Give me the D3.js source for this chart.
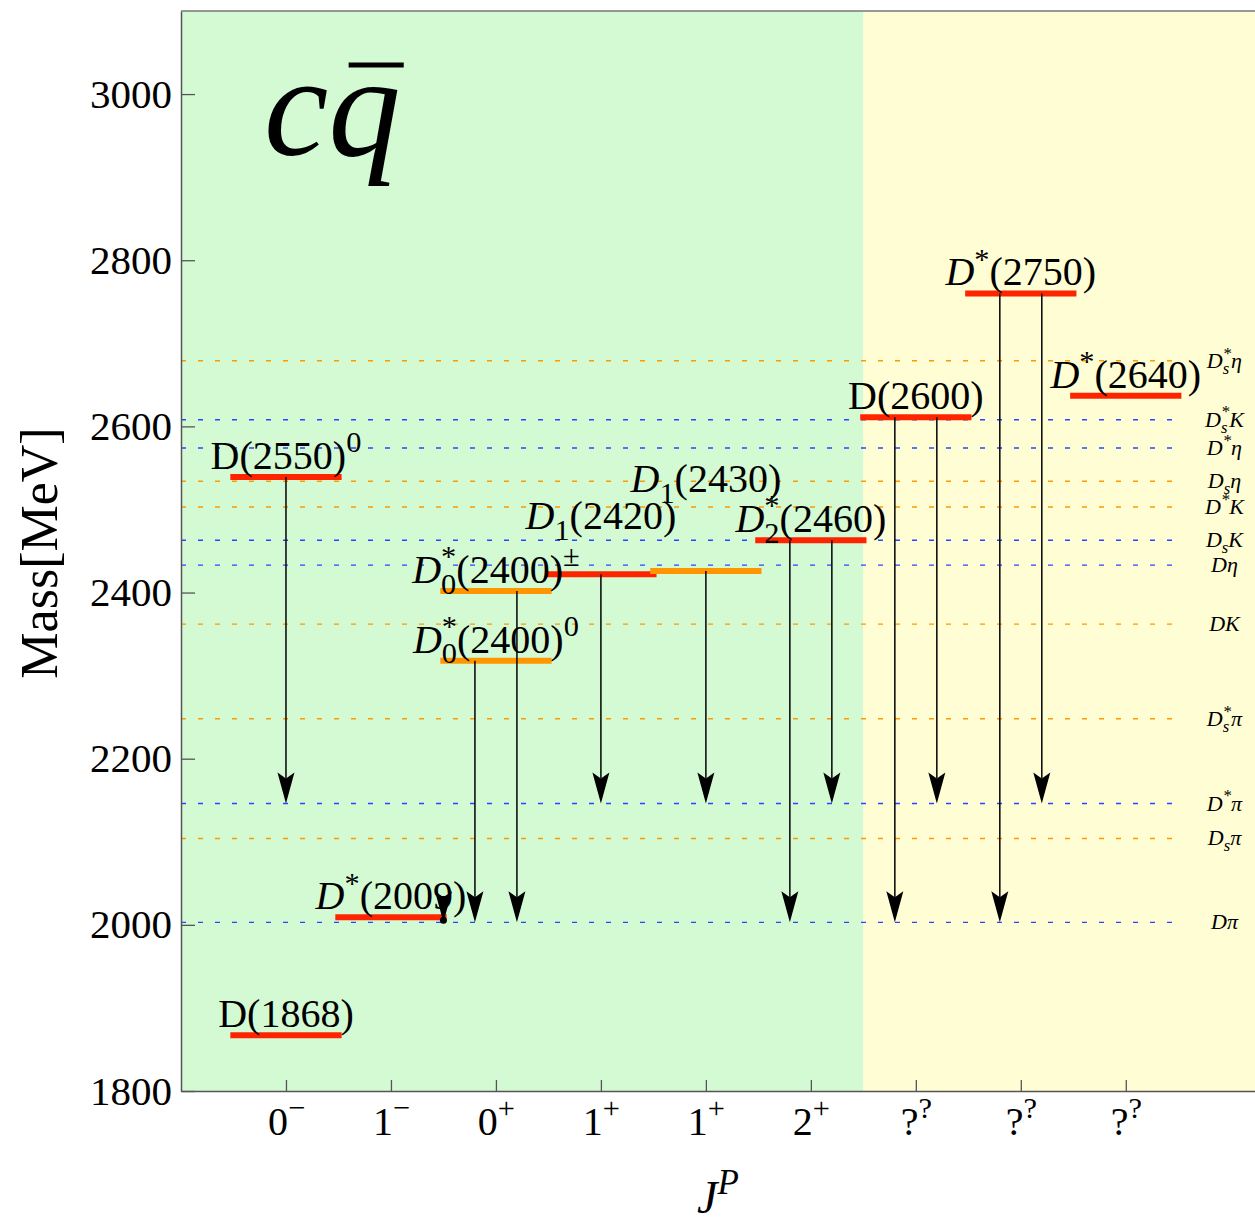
<!DOCTYPE html>
<html>
<head>
<meta charset="utf-8">
<script src="https://cdn.jsdelivr.net/npm/d3@7"></script>
<style>
  body { margin: 0; background: #fff; }
  text { font-family: "Liberation Serif", "Times New Roman", serif; fill: #000; }
</style>
</head>
<body>
<svg id="chart"></svg>
<script>
'use strict';

// Spin-parity slots on the x axis: base symbol and its superscript.
const jpBase = ['0', '1', '0', '1', '1', '2', '?', '?', '?'];
const jpSup = ['\u2212', '\u2212', '+', '+', '+', '+', '?', '?', '?'];
const massTicks = [1800, 2000, 2200, 2400, 2600, 2800, 3000];

// Charmed mesons. Markup: {X} italic, _x subscript, ^x superscript.
const levelNames = ['D(1868)', '{D}^*(2009)', '{D}_0^*(2400)^\u00b1',
  '{D}_0^*(2400)^0', '{D}_1(2420)', '{D}_1(2430)', '{D}_2^*(2460)',
  'D(2550)^0', 'D(2600)', '{D}^*(2750)', '{D}^*(2640)'];
const levelSlot = [1, 2, 3, 3, 4, 5, 6, 1, 7, 8, 9];
const levelMass = [1867, 2009, 2402, 2318, 2422, 2426, 2463, 2539, 2611, 2760, 2637];
const levelBroad = [false, false, true, true, false, true, false, false, false, false, false];

// Two-body thresholds, group 0 drawn blue, group 1 orange.
const thresholdNames = ['D\u03c0', 'D_s\u03c0', 'D^*\u03c0', 'D_s^*\u03c0', 'DK',
  'D\u03b7', 'D_sK', 'D^*K', 'D_s\u03b7', 'D^*\u03b7', 'D_s^*K', 'D_s^*\u03b7'];
const thresholdMass = [2003, 2104, 2146, 2248, 2362, 2433, 2463, 2503, 2534, 2574, 2608, 2679];
const thresholdGroup = [0, 1, 0, 1, 1, 0, 0, 1, 1, 0, 0, 1];

// Decays: level index -> threshold index, drawn at x position decaySlot.
const decayFrom = [7, 1, 3, 2, 4, 5, 6, 6, 8, 8, 9, 9];
const decayTo = [2, 0, 0, 0, 2, 2, 0, 2, 0, 2, 0, 2];
const decaySlot = [1, 2.5, 2.8, 3.2, 4, 5, 5.8, 6.2, 6.8, 7.2, 7.8, 8.2];

const width = 1255;
const height = 1223;
const svg = d3.select('#chart').attr('width', width).attr('height', height);

const x = d3.scaleLinear().domain([0, 10.25]).range([181, 1257]);
const y = d3.scaleLinear().domain([1800, 3100]).range([1091, 11]);

// Label lift above the bar, in px (a few labels are raised to avoid overlap).
const labelLift = {4: 37, 5: 71};

/** Writes a tiny markup string into a text element as tspans. */
function appendMarkup(text, markup, size, italicAll) {
  const small = 0.76 * size;
  const supShift = -0.42 * size;
  const subShift = 0.27 * size;
  let shift = 0;
  let italic = false;
  let lastSub = null;
  for (let i = 0; i < markup.length; i++) {
    const ch = markup[i];
    if (ch === '{') { italic = true; continue; }
    if (ch === '}') { italic = false; continue; }
    let s = ch;
    let target = 0;
    let sz = size;
    if (ch === '_' || ch === '^') {
      s = markup[++i];
      target = ch === '_' ? subShift : supShift;
      sz = small;
    }
    const t = text.append('tspan')
        .text(s)
        .attr('font-size', sz)
        .attr('dy', target - shift);
    if (italic || italicAll) t.attr('font-style', 'italic');
    // Stack a superscript right above a preceding subscript.
    if (ch === '^' && lastSub) {
      t.attr('dx', -lastSub.node().getComputedTextLength());
    }
    lastSub = ch === '_' ? t : null;
    shift = target;
  }
}

// Background bands: known J^P (green) and unknown (yellow).
svg.append('rect')
    .attr('x', x(0)).attr('y', y(3100))
    .attr('width', x(6.5) - x(0)).attr('height', y(1800) - y(3100))
    .attr('fill', '#d4fad4');
svg.append('rect')
    .attr('x', x(6.5)).attr('y', y(3100))
    .attr('width', x(10.25) - x(6.5)).attr('height', y(1800) - y(3100))
    .attr('fill', '#fffdd3');

// Threshold lines.
svg.append('g').selectAll('line')
    .data(thresholdMass)
    .join('line')
    .attr('x1', x(0))
    .attr('x2', x(9.55))
    .attr('y1', d => y(d))
    .attr('y2', d => y(d))
    .attr('stroke', (d, i) => thresholdGroup[i] ? '#ff9900' : '#2a45ff')
    .attr('stroke-width', 1.4)
    .attr('stroke-dasharray', '5,12');

thresholdNames.forEach((name, i) => {
  const t = svg.append('text')
      .attr('x', x(9.94))
      .attr('y', y(thresholdMass[i]) + 7)
      .attr('text-anchor', 'middle')
      .attr('font-size', 22);
  appendMarkup(t, name, 22, true);
});

// Meson levels.
svg.append('g').selectAll('line')
    .data(levelMass)
    .join('line')
    .attr('x1', (d, i) => x(levelSlot[i] - 0.53))
    .attr('x2', (d, i) => x(levelSlot[i] + 0.53))
    .attr('y1', d => y(d))
    .attr('y2', d => y(d))
    .attr('stroke', (d, i) => levelBroad[i] ? '#ff9600' : '#ff2400')
    .attr('stroke-width', 6);

// Decay arrows.
const headLen = 31;
const headHalf = 8.5;
const arrows = svg.append('g');
decayFrom.forEach((from, k) => {
  const ax = x(decaySlot[k]);
  const y0 = y(levelMass[from]);
  const tip = y(thresholdMass[decayTo[k]]);
  arrows.append('line')
      .attr('x1', ax).attr('x2', ax)
      .attr('y1', y0).attr('y2', Math.max(y0, tip - headLen + 6))
      .attr('stroke', '#111')
      .attr('stroke-width', 1.6);
  arrows.append('path')
      .attr('d', `M${ax},${tip} L${ax - headHalf},${tip - headLen} ` +
          `L${ax},${tip - headLen + 6} L${ax + headHalf},${tip - headLen} Z`)
      .attr('fill', '#000');
  if (tip - y0 < headLen) {
    arrows.append('circle')
        .attr('cx', ax).attr('cy', tip - 2).attr('r', 3.5)
        .attr('fill', '#000');
  }
});

// Level labels.
levelNames.forEach((name, i) => {
  const t = svg.append('text')
      .attr('x', x(levelSlot[i]))
      .attr('y', y(levelMass[i]) - 8 - (labelLift[i] || 0))
      .attr('text-anchor', 'middle')
      .attr('font-size', 40);
  appendMarkup(t, name, 40, false);
});

// Axes.
const yAxis = svg.append('g')
    .attr('transform', `translate(${x(0)},0)`)
    .call(d3.axisLeft(y).tickValues(massTicks).tickSize(-14)
        .tickSizeOuter(0).tickPadding(9).tickFormat(d3.format('d')));
yAxis.selectAll('text')
    .attr('font-size', 41)
    .attr('font-family', '"Liberation Serif", serif');

const xAxis = svg.append('g')
    .attr('transform', `translate(0,${y(1800)})`)
    .call(d3.axisBottom(x).tickValues(d3.range(1, 10)).tickSize(-11)
        .tickSizeOuter(0).tickFormat(''));
xAxis.selectAll('.tick').each(function(d) {
  const t = d3.select(this).append('text')
      .attr('x', 0)
      .attr('y', 44)
      .attr('text-anchor', 'middle')
      .attr('font-size', 40)
      .attr('font-family', '"Liberation Serif", serif');
  appendMarkup(t, jpBase[d - 1] + '^' + jpSup[d - 1], 40, false);
});
[yAxis, xAxis].forEach(a => {
  a.select('.domain').attr('stroke', '#555').attr('stroke-width', 1.5);
  a.selectAll('.tick line').attr('stroke', '#555').attr('stroke-width', 1.3);
});

// Top frame line.
svg.append('line')
    .attr('x1', x(0)).attr('x2', width)
    .attr('y1', y(3100)).attr('y2', y(3100))
    .attr('stroke', '#777').attr('stroke-width', 1.5);

// Axis titles.
svg.append('text')
    .attr('transform', `translate(57,${(y(1800) + y(3100)) / 2 + 2}) rotate(-90)`)
    .attr('text-anchor', 'middle')
    .attr('font-size', 52)
    .text('Mass[MeV]');

const jp = svg.append('text')
    .attr('x', (x(0) + width) / 2)
    .attr('y', 1213)
    .attr('text-anchor', 'middle')
    .attr('font-size', 46);
appendMarkup(jp, 'J^P', 46, true);

// Quark content title: c q-bar.
const titleSize = 145;
const title = svg.append('text')
    .attr('x', 264)
    .attr('y', 155)
    .attr('font-size', titleSize)
    .attr('font-style', 'italic')
    .text('cq');
const qStart = title.node().getStartPositionOfChar(1).x;
svg.append('line')
    .attr('x1', qStart + 0.14 * titleSize)
    .attr('x2', qStart + 0.52 * titleSize)
    .attr('y1', 65).attr('y2', 65)
    .attr('stroke', '#000')
    .attr('stroke-width', 5);
</script>
</body>
</html>
